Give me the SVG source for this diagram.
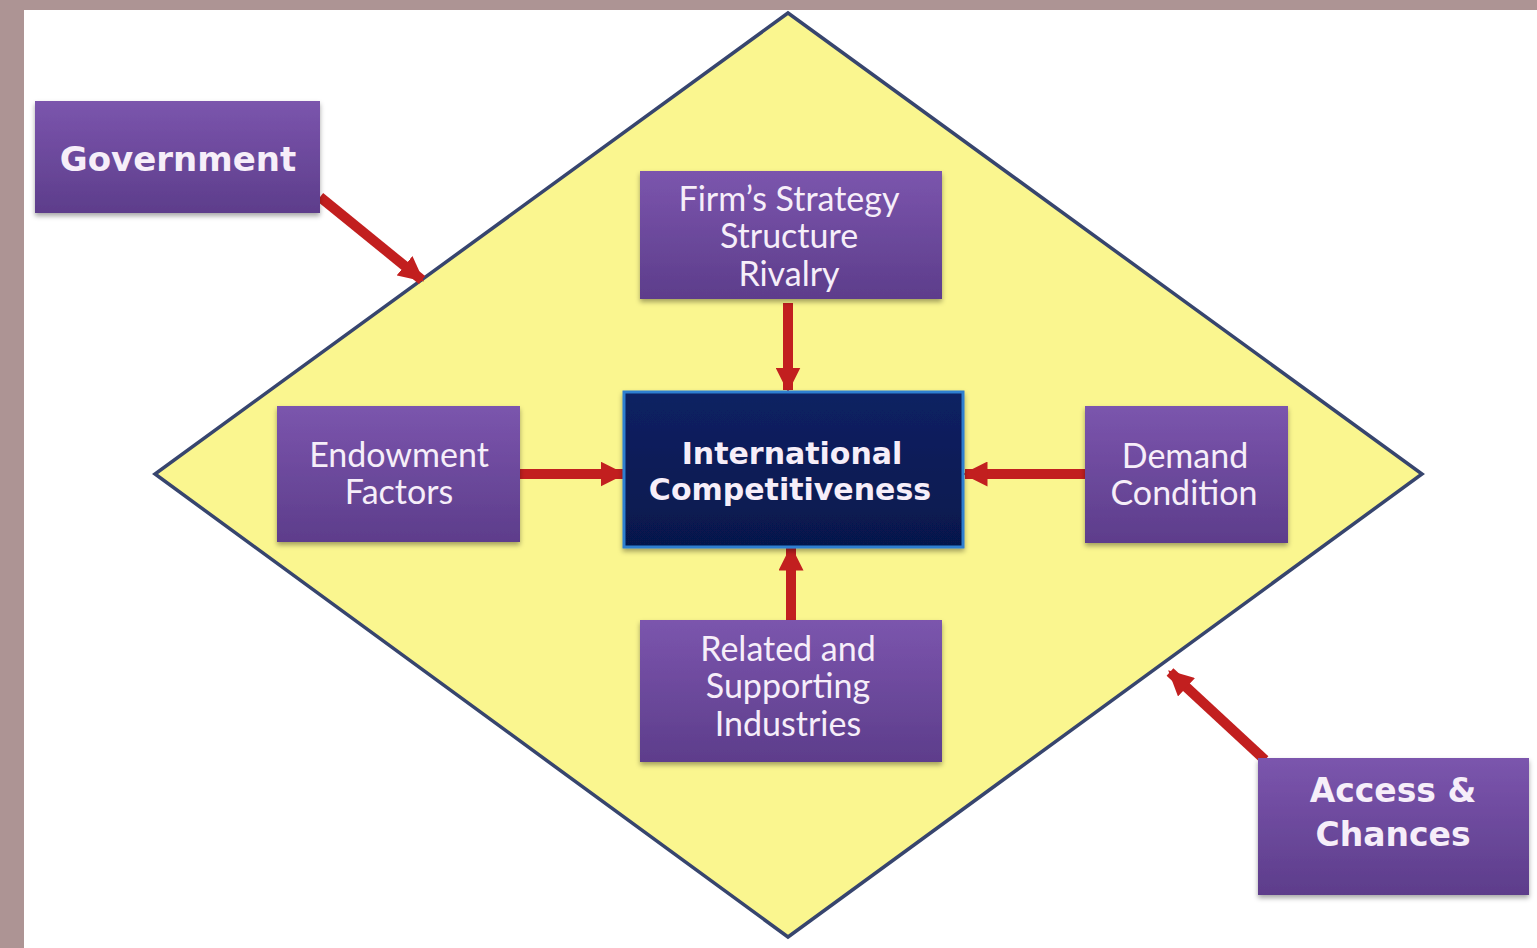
<svg xmlns="http://www.w3.org/2000/svg" width="1537" height="948" viewBox="0 0 1537 948">
<defs>
<linearGradient id="pg" x1="0" y1="0" x2="0" y2="1">
<stop offset="0" stop-color="#7b55ad"/>
<stop offset="1" stop-color="#5d3d8b"/>
</linearGradient>
<linearGradient id="bg" x1="0" y1="0" x2="0" y2="1">
<stop offset="0" stop-color="#0c2163"/>
<stop offset="1" stop-color="#06184c"/>
</linearGradient>
<filter id="sh" x="-10%" y="-10%" width="120%" height="130%">
<feDropShadow dx="0" dy="3" stdDeviation="2.5" flood-color="#000" flood-opacity="0.35"/>
</filter>
<marker id="ah" viewBox="0 0 10 10" refX="9" refY="5" markerWidth="2.5" markerHeight="2.5" markerUnits="strokeWidth" orient="auto">
<path d="M0,0 L10,5 L0,10 Z" fill="#c21f1f"/>
</marker>
</defs>
<style>
.box{fill:url(#pg);filter:url(#sh);}
.t{fill:#f6eef9;font-family:Lato,"Open Sans","Liberation Sans",sans-serif;font-size:34px;text-anchor:middle;}
.tb{fill:#f6eef9;font-family:"DejaVu Sans",Verdana,sans-serif;font-weight:bold;text-anchor:middle;}
.ar{stroke:#c21f1f;stroke-width:10;fill:none;marker-end:url(#ah);}
</style>
<rect x="0" y="0" width="1537" height="948" fill="#ad9494"/>
<rect x="24" y="10" width="1513" height="938" fill="#ffffff"/>
<g id="diamond">
<polygon points="788,13 1422,474 788,937 155,474" fill="#faf68f" stroke="#37456e" stroke-width="3.5" stroke-linejoin="miter"/>
</g>
<g id="connectors">
<line class="ar" x1="788" y1="303" x2="788" y2="390"/>
<line class="ar" x1="520" y1="474" x2="623" y2="474"/>
<line class="ar" x1="1085" y1="474" x2="965" y2="474"/>
<line class="ar" x1="791" y1="620" x2="791" y2="548"/>
<line class="ar" x1="320" y1="197" x2="422" y2="280"/>
<line class="ar" x1="1265" y1="760" x2="1170" y2="672"/>
</g>
<g id="government">
<rect class="box" x="35" y="101" width="285" height="112"/>
<text class="tb" x="178" y="171" font-size="34">Government</text>
</g>
<g id="firm">
<rect class="box" x="640" y="171" width="302" height="128"/>
<text class="t" x="789" y="211">Firm’s Strategy</text>
<text class="t" x="789" y="248">Structure</text>
<text class="t" x="789" y="286">Rivalry</text>
</g>
<g id="endowment">
<rect class="box" x="277" y="406" width="243" height="136"/>
<text class="t" x="399" y="467">Endowment</text>
<text class="t" x="399" y="504">Factors</text>
</g>
<g id="international">
<rect x="624" y="392" width="339" height="155" fill="url(#bg)" stroke="#2d7fd0" stroke-width="3" filter="url(#sh)"/>
<text class="tb" x="792" y="464" font-size="30">International</text>
<text class="tb" x="790" y="500" font-size="30">Competitiveness</text>
</g>
<g id="demand">
<rect class="box" x="1085" y="406" width="203" height="137"/>
<text class="t" x="1185" y="468">Demand</text>
<text class="t" x="1184" y="505">Condition</text>
</g>
<g id="related">
<rect class="box" x="640" y="620" width="302" height="142"/>
<text class="t" x="788" y="661">Related and</text>
<text class="t" x="788" y="698">Supporting</text>
<text class="t" x="788" y="736">Industries</text>
</g>
<g id="access">
<rect class="box" x="1258" y="758" width="271" height="137"/>
<text class="tb" x="1393" y="802" font-size="33">Access &amp;</text>
<text class="tb" x="1393" y="846" font-size="33">Chances</text>
</g>
</svg>
